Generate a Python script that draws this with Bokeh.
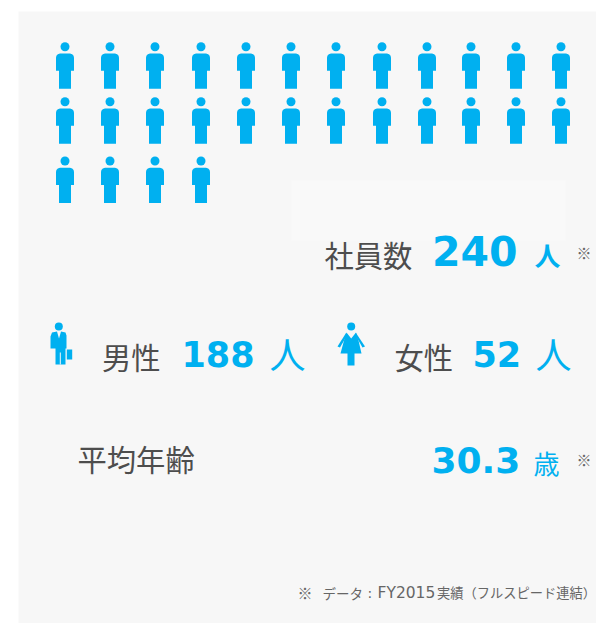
from bokeh.plotting import figure
from bokeh.models import Range1d
from bokeh.core.properties import value
from bokeh.embed import file_html
from bokeh.resources import INLINE

BLUE = "#00b0f0"
GRAY = "#4d4d4d"
NOTE = "#666666"
JP = "Noto Sans CJK JP"
NUM = "DejaVu Sans"

row_counts = [12, 12, 4]
column_centres = [64.5, 109.5, 154.5, 200.5, 245.5, 290.5, 335.5, 381.5, 426.5, 470.5, 515.5, 560.5]
row_head_y = [46.2, 101.2, 160.5]

# (text, x, y, size px, colour, bold, font)
labels = [
    ("社員数", 324, 253, 29.3, GRAY, False, JP),
    ("240", 431.5, 250, 41, BLUE, True, NUM),
    ("人", 534, 254, 26, BLUE, True, JP),
    ("※", 576, 252, 15, NOTE, False, JP),
    ("男性", 101.5, 355, 29.3, GRAY, False, JP),
    ("188", 181, 353, 35, BLUE, True, NUM),
    ("人", 269, 352, 36, BLUE, False, JP),
    ("女性", 394, 355, 29.3, GRAY, False, JP),
    ("52", 472, 353, 35, BLUE, True, NUM),
    ("人", 535, 352, 36, BLUE, False, JP),
    ("平均年齢", 77, 457, 29.3, GRAY, False, JP),
    ("30.3", 431, 459, 36, BLUE, True, NUM),
    ("歳", 533, 462, 26, BLUE, False, JP),
    ("※", 576, 459, 15, NOTE, False, JP),
    ("※", 297, 592, 15, NOTE, False, JP),
    ("データ", 322, 592, 13.5, NOTE, False, JP),
    (":", 367, 592, 14, NOTE, False, NUM),
    ("FY2015", 377, 592, 15.5, NOTE, False, NUM),
    ("実績（フルスピード連結）", 436.5, 592, 13.25, NOTE, False, JP),
]

W, H = 596, 623
p = figure(width=W, height=H, output_backend="svg", toolbar_location=None,
           x_range=Range1d(0, W), y_range=Range1d(H, 0),
           min_border=0, outline_line_color=None, background_fill_color="white",
           border_fill_color="white")
p.axis.visible = False
p.grid.visible = False

p.quad(left=[18], right=[596], top=[11], bottom=[623], color="#f7f7f7", line_color=None)
p.quad(left=[291], right=[565], top=[180], bottom=[240], color="#f9f9f9", line_color=None)


def person(cx, hy):
    x = [-9, -8.6, -7.2, -5, 5, 7.2, 8.6, 9, 9, 6, 6, -6, -6, -9]
    y = [11, 9, 7.6, 6.7, 6.7, 7.6, 9, 11, 24, 24, 42, 42, 24, 24]
    return [cx + v for v in x], [hy + v for v in y]


xs, ys, hx, hy = [], [], [], []
for count, y0 in zip(row_counts, row_head_y):
    for cx in column_centres[:count]:
        a, b = person(cx, y0)
        xs.append(a); ys.append(b); hx.append(cx); hy.append(y0)
p.patches(xs, ys, color=BLUE, line_color=None)
p.circle(hx, hy, radius=4.5, color=BLUE, line_color=None)

# man with case
p.circle([58.3], [326], radius=4, color=BLUE, line_color=None)
p.patch([50, 51.5, 56.5, 58.5, 60.5, 65, 66, 66, 65, 65, 55, 55, 50],
        [336, 332, 331, 338, 331, 332, 335, 348, 348, 364, 364, 348, 348],
        color=BLUE, line_color=None)
p.line([59.8, 59.8], [352, 364], color="#f7f7f7", line_width=1)
p.quad(left=[66.3], right=[71.7], top=[349], bottom=[359], color=BLUE, line_color=None)

# woman
p.circle([350.7], [326], radius=4, color=BLUE, line_color=None)
p.patch([346, 350.7, 355.5, 358, 361, 354, 354, 347, 347, 340, 343.5],
        [332, 338, 332, 340, 353, 353, 365, 365, 353, 353, 340],
        color=BLUE, line_color=None)
p.patches([[345.5, 347, 339.5, 337], [355.5, 354.5, 362, 364.5]],
          [[332.5, 334, 347, 346], [332.5, 334, 347, 346]],
          color=BLUE, line_color=None)

for t, x, y, s, c, b, f in labels:
    p.text([x], [y], text=[t], text_font=value(f), text_font_size=f"{s}px", text_color=c,
           text_font_style="bold" if b else "normal", text_align="left", text_baseline="middle")

open("out.html", "w").write(file_html(p, INLINE))
